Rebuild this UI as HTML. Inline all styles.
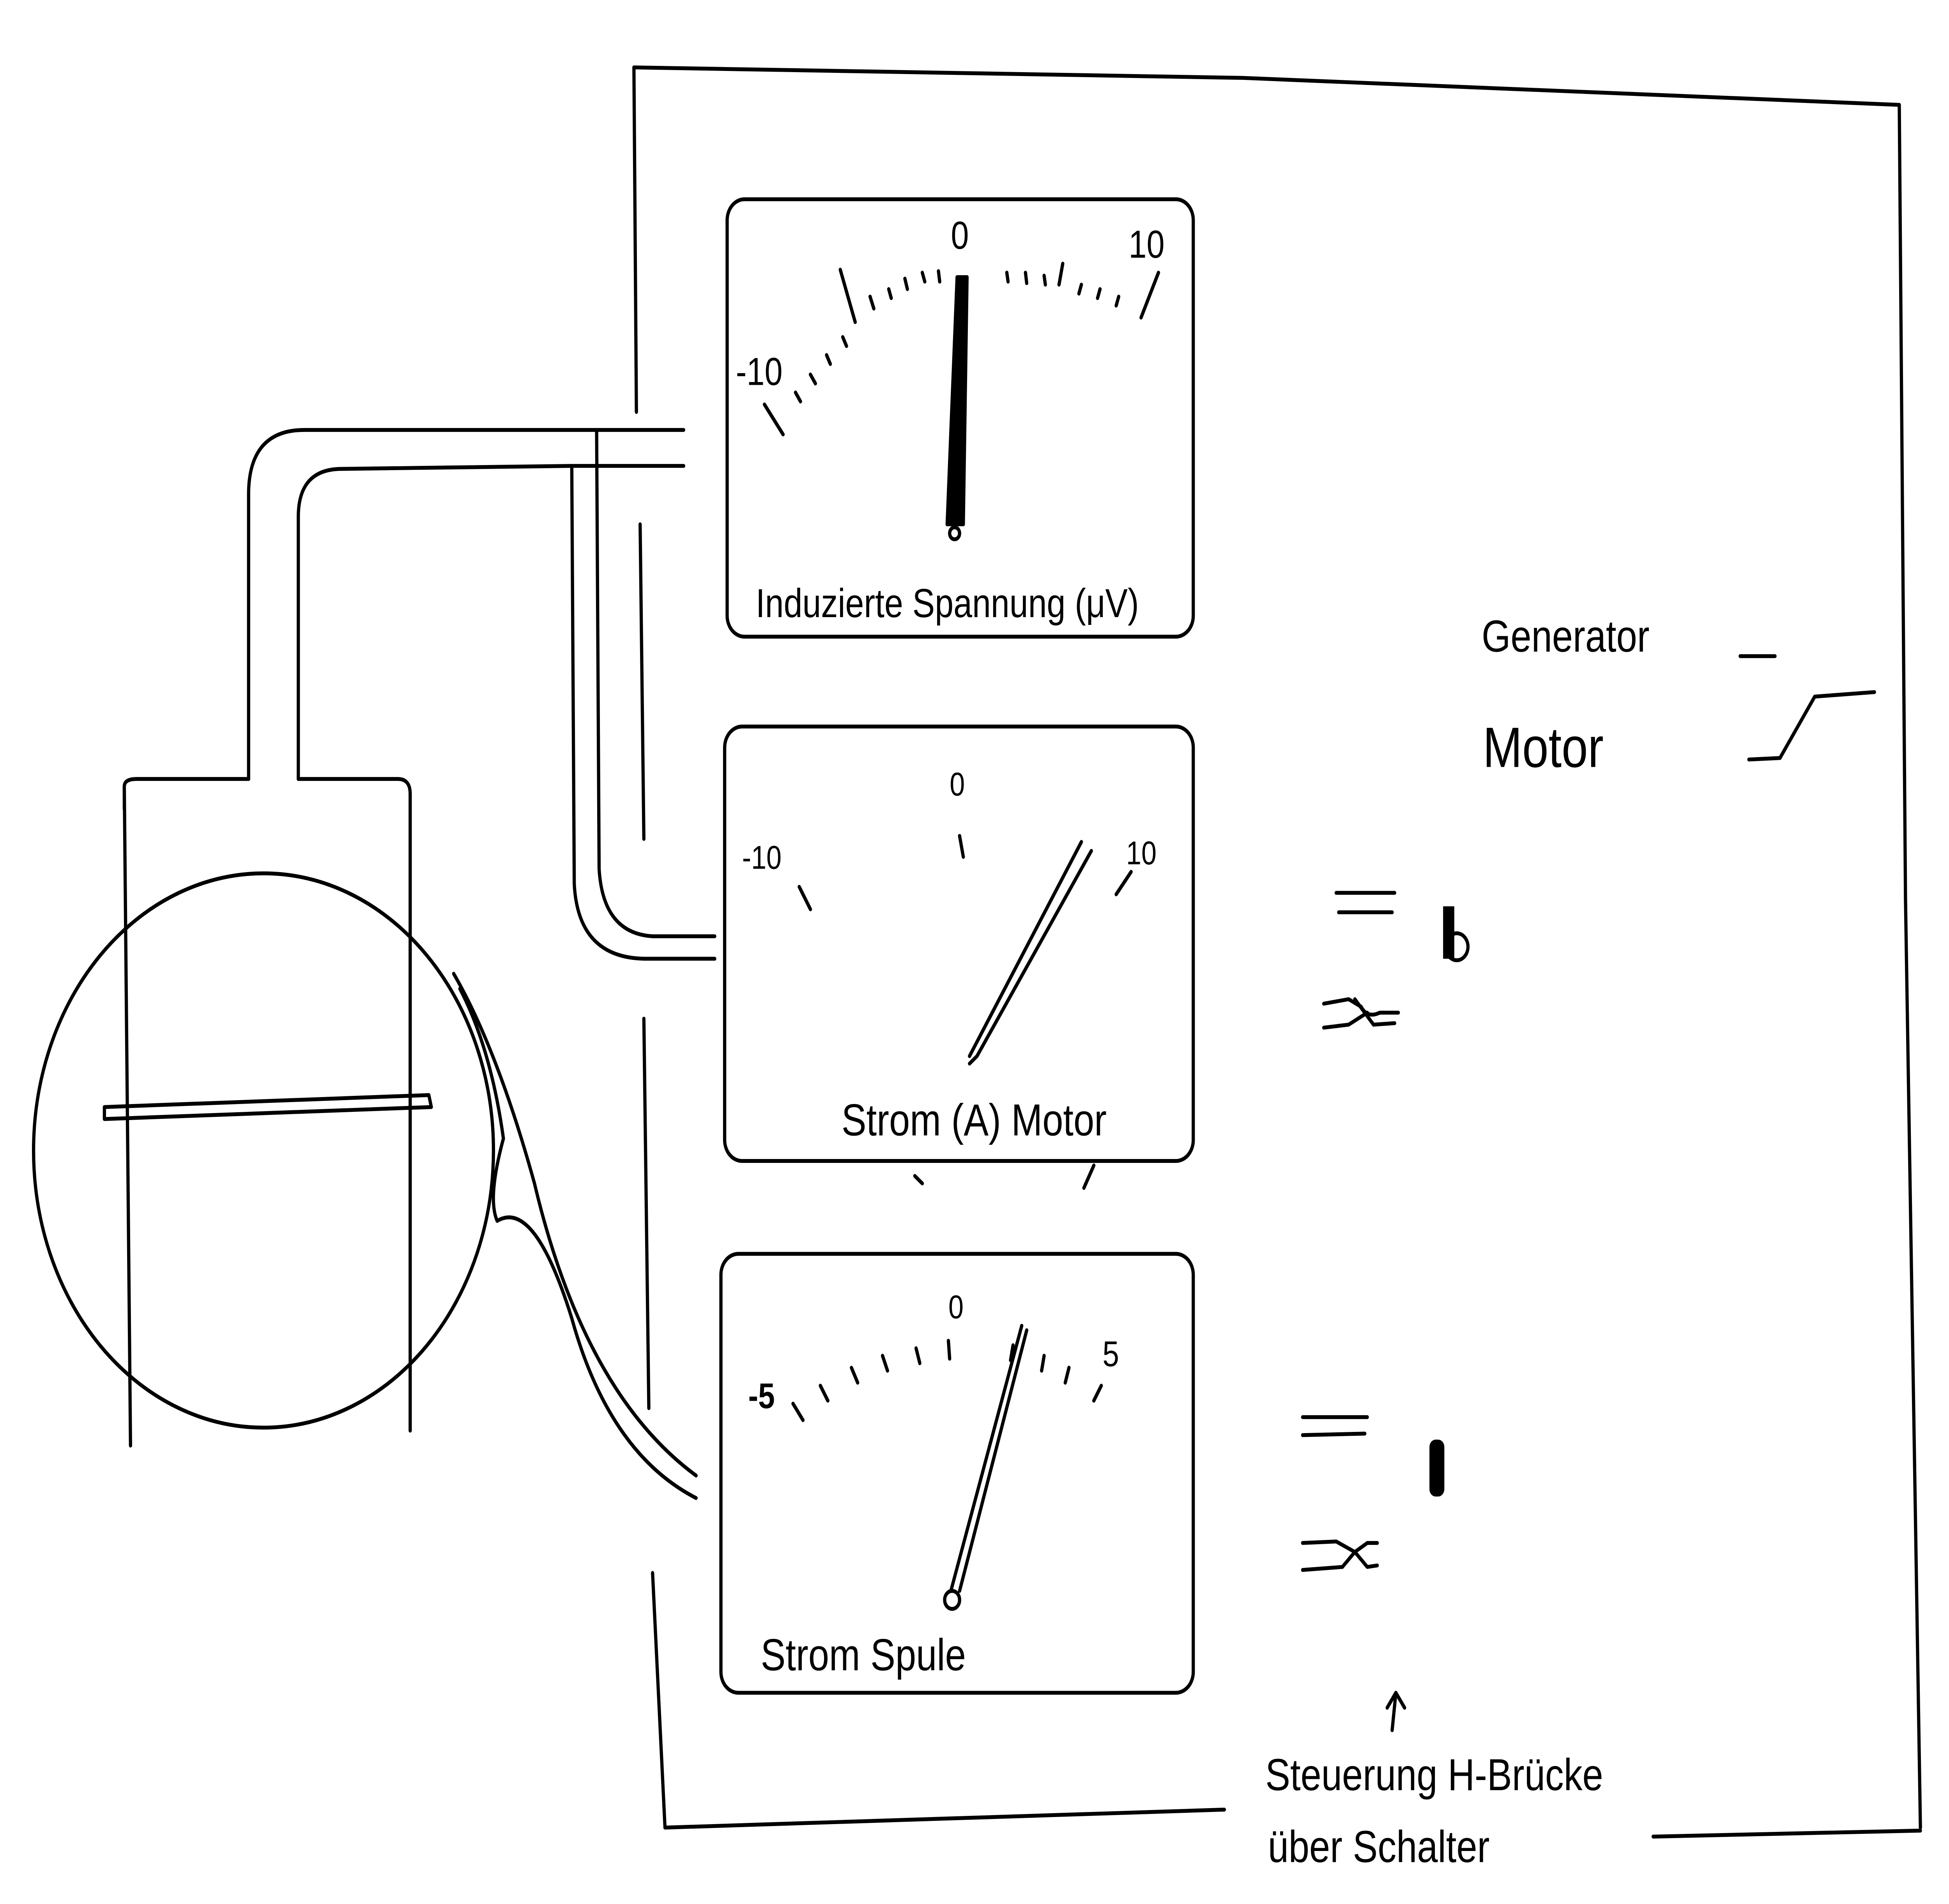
<!DOCTYPE html>
<html><head><meta charset="utf-8"><style>
html,body{margin:0;padding:0;background:#fff;overflow:hidden;width:100vw;height:100vh;}
svg{display:block;position:absolute;left:0;top:0;width:100vw;height:100vh;}
text{font-family:"Liberation Sans",sans-serif;fill:#000;}
</style></head><body>
<svg viewBox="0 0 1568 1271" preserveAspectRatio="none" xmlns="http://www.w3.org/2000/svg">
<g fill="none" stroke="#000" stroke-width="2.6" stroke-linecap="round" stroke-linejoin="round">
<path d="M510 45 L1000 52 L1528 70"/>
<path d="M1528 70 L1533 600 L1545 1220"/>
<path d="M535 1220 L985 1208"/>
<path d="M1330 1226 L1545 1222"/>
<path d="M510 45 L512 275"/>
<path d="M515 350 L518 560"/>
<path d="M518 680 L522 940"/>
<path d="M525 1050 L535 1220"/>
<rect x="585" y="133" width="375" height="292" rx="14"/>
<rect x="583" y="485" width="377" height="290" rx="14"/>
<rect x="580" y="837" width="380" height="293" rx="14"/>
<path d="M200 520 L200 330 Q200 287 245 287 L550 287"/>
<path d="M240 520 L240 345 Q240 313 275 313 L460 311 L550 311"/>
<path d="M100 540 L100 525 Q100 520 110 520 L200 520"/>
<path d="M240 520 L320 520 Q330 520 330 530"/>
<path d="M460 311 L462 590 Q465 640 520 640 L575 640"/>
<path d="M480 288 L482 580 Q485 623 525 625 L575 625"/>
<path d="M100 525 L105 965"/>
<path d="M330 530 L330 955"/>
<circle cx="212" cy="768" r="185"/>
<path d="M84 739 L345 731 L347 739 L84 747 Z"/>
<path d="M365 650 Q400 700 430 790 Q470 930 560 985"/>
<path d="M370 660 Q395 700 405 760 Q392 800 400 815 Q430 800 460 880 Q490 970 560 1000"/>
<path d="M615 270 L630 290 M640 262 L644 268 M652 250 L656 256 M665 237 L668 243 M678 225 L681 231 M676 180 L688 215 M700 198 L703 206 M715 193 L717 199 M728 186 L730 193 M742 182 L744 188 M755 181 L756 188 M810 182 L811 188 M825 182 L826 189 M840 184 L841 190 M855 176 L852 190 M870 190 L868 196 M885 193 L883 199 M900 198 L898 204 M932 182 L918 212"/>
<path d="M770 185 L762 350 L775 350 L778 185 Z" fill="#000"/>
<circle cx="768" cy="356" r="4"/>
<path d="M643 592 L652 607 M772 558 L775 572 M910 582 L898 597"/>
<path d="M870 562 L780 705 M878 568 L786 705 L780 710"/>
<path d="M638 937 L646 948 M660 925 L666 935 M685 913 L690 923 M710 905 L714 915 M737 900 L740 910 M763 895 L764 907 M815 898 L813 908 M840 905 L838 915 M860 913 L857 923 M886 925 L880 935"/>
<path d="M822 885 L765 1062 M826 888 L772 1062"/>
<circle cx="766" cy="1068" r="6"/>
<path d="M1400 438 L1428 438"/>
<path d="M1407 507 L1432 506 L1460 465 L1508 462"/>
<path d="M1075 596 L1122 596 M1077 609 L1120 609"/>
<path d="M1065 670 L1085 667 L1095 672 Q1100 680 1110 676 L1125 676 M1065 686 L1085 684 L1100 676 M1090 667 L1105 684 L1122 683"/>
<path d="M1048 946 L1100 946 M1048 958 L1098 957"/>
<path d="M1048 1030 L1075 1029 L1090 1036 L1080 1046 L1048 1048 M1090 1036 L1100 1030 L1108 1030 M1090 1036 L1100 1046 L1108 1045"/>
<path d="M1120 1155 L1123 1130 M1116 1140 L1123 1130 L1130 1140"/>
<path d="M736 785 L742 790 M880 778 L872 793"/>
</g>
<rect x="1161" y="605" width="9" height="35" fill="#000"/>
<circle cx="1172" cy="632" r="9" fill="none" stroke="#000" stroke-width="2.6"/>
<rect x="1150" y="961" width="12" height="38" rx="5" fill="#000"/>
<g font-size="26">
<text x="765" y="166">0</text>
<text x="908" y="172">10</text>
<text x="592" y="257">-10</text>
<text x="608" y="412" font-size="27">Induzierte Spannung (μV)</text>
<text x="764" y="531" font-size="22">0</text>
<text x="597" y="580" font-size="22">-10</text>
<text x="906" y="577" font-size="22">10</text>
<text x="677" y="758" font-size="30">Strom (A) Motor</text>
<text x="763" y="880" font-size="22">0</text>
<text x="602" y="940" font-weight="bold" font-size="24">-5</text>
<text x="887" y="912" font-size="24">5</text>
<text x="612" y="1115" font-size="30">Strom Spule</text>
<text x="1192" y="435" font-size="30">Generator</text>
<text x="1193" y="512" font-size="38">Motor</text>
<text x="1018" y="1195" font-size="30">Steuerung  H-Brücke</text>
<text x="1020" y="1243" font-size="30">über   Schalter</text>
</g>
</svg>
</body></html>
